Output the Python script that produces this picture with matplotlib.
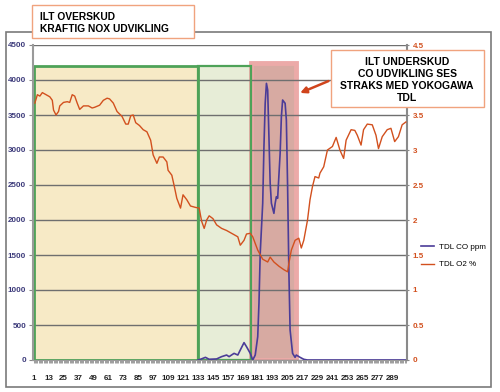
import matplotlib
matplotlib.use('Agg')
import matplotlib.pyplot as plt
from matplotlib.patches import Rectangle

# ---- data ----
o2_x = [2, 4, 6, 8, 11, 14, 16, 17, 19, 21, 22, 25, 28, 30, 32, 34, 36, 38, 41, 45,
        48, 50, 54, 57, 60, 62, 65, 68, 72, 75, 77, 79, 81, 83, 86, 89, 92, 95, 97, 100,
        102, 105, 108, 109, 112, 114, 116, 119, 121, 124, 127, 131, 134, 135, 136, 138, 140, 142, 145, 148,
        152, 156, 162, 165, 167, 170, 172, 175, 177, 181, 185, 189, 191, 194, 198, 202, 205, 206, 208, 211,
        214, 216, 218, 221, 223, 225, 227, 230, 231, 234, 237, 241, 244, 247, 250, 252, 256, 259, 261, 264,
        266, 269, 273, 276, 278, 281, 285, 288, 291, 294, 297, 300]
o2_y = [3.67, 3.79, 3.77, 3.82, 3.79, 3.76, 3.71, 3.57, 3.50, 3.55, 3.63, 3.68, 3.69, 3.68, 3.79, 3.77, 3.67, 3.58, 3.63, 3.63,
        3.60, 3.61, 3.64, 3.71, 3.74, 3.73, 3.67, 3.55, 3.48, 3.37, 3.37, 3.49, 3.50, 3.39, 3.35, 3.29, 3.26, 3.14, 2.93, 2.81,
        2.90, 2.90, 2.83, 2.71, 2.64, 2.48, 2.31, 2.17, 2.36, 2.29, 2.20, 2.18, 2.17, 2.07, 1.98, 1.88, 2.00, 2.06, 2.02, 1.93,
        1.88, 1.85, 1.79, 1.76, 1.64, 1.71, 1.80, 1.81, 1.76, 1.57, 1.44, 1.40, 1.47, 1.40, 1.34, 1.29, 1.26, 1.38, 1.57, 1.71,
        1.74, 1.60, 1.71, 2.00, 2.29, 2.48, 2.62, 2.60, 2.67, 2.76, 3.00, 3.05, 3.18, 3.00, 2.88, 3.14, 3.29, 3.28, 3.21, 3.07,
        3.29, 3.37, 3.36, 3.21, 3.02, 3.19, 3.29, 3.31, 3.12, 3.19, 3.36, 3.40]

co_x = [133, 135, 139, 142, 148, 152, 156, 158, 162, 165, 167, 170, 172, 175, 177, 179, 181, 182, 183,
        185, 186, 187, 188, 189, 190, 191, 192, 194, 195, 196, 197, 199, 200, 201, 203, 204, 205, 206, 207,
        209, 211, 212, 215, 218, 221, 300]
co_y = [0, 10, 38, 10, 15, 48, 71, 48, 95, 71, 143, 248, 190, 95, 0, 71, 333, 810, 1524,
        2238, 3047, 3667, 3952, 3857, 3190, 2524, 2238, 2095, 2238, 2333, 2310, 2952, 3476, 3714, 3667, 3429, 2476, 1286, 429,
        95, 38, 71, 38, 10, 0, 0]

n_points = 300
xtick_labels = list(range(1, 290, 12))
left_ticks = list(range(0, 4501, 500))
right_ticks = [0, 0.5, 1, 1.5, 2, 2.5, 3, 3.5, 4, 4.5]
# the "4" label sits hidden behind the note box in the reference
right_tick_labels = ['0', '0.5', '1', '1.5', '2', '2.5', '3', '3.5', '', '4.5']
series_names = ['TDL CO ppm', 'TDL O2 %']

# phase regions (category start, category end)
zone_ok = (0.5, 133)
zone_mid = (133, 176)
zone_co = (176, 211.5)

title_lines = 'ILT OVERSKUD\nKRAFTIG NOX UDVIKLING'
note_lines = 'ILT UNDERSKUD\nCO UDVIKLING SES\nSTRAKS MED YOKOGAWA\nTDL'

# ---- figure ----
W, H = 500, 392
fig = plt.figure(figsize=(W / 100, H / 100), dpi=100)
fig.patch.set_facecolor('white')

# outer chart border
fig.add_artist(Rectangle((6 / W, 1 - 387 / H), 485 / W, 355 / H, transform=fig.transFigure,
                         fill=False, edgecolor='#7a7a7a', linewidth=1.2, zorder=0))

ax = fig.add_axes([33 / W, 1 - 360 / H, (406.5 - 33) / W, (360 - 45) / H])
ax.set_facecolor('white')
ax2 = ax.twinx()

ax.set_xlim(0.5, n_points + 0.5)
ax.set_ylim(0, 4500)
ax2.set_ylim(0, 4.5)

# shaded zones
green = '#4ea258'
ax.add_patch(Rectangle((zone_ok[0], 0), zone_ok[1] - zone_ok[0], 4200, facecolor='#f7eac6',
                       edgecolor='none', zorder=0.1))
ax.add_patch(Rectangle((zone_mid[0], 0), zone_mid[1] - zone_mid[0], 4200, facecolor='#e7edd7',
                       edgecolor='none', zorder=0.1))
ax.add_patch(Rectangle((zone_co[0], 0), zone_co[1] - zone_co[0], 4240, facecolor='#d7aaa2',
                       edgecolor='#ecaaa8', linewidth=3.5, zorder=0.15))
ax.add_patch(Rectangle((zone_ok[0] + 0.6, 0), zone_ok[1] - zone_ok[0] - 0.6, 4200, fill=False,
                       edgecolor=green, linewidth=2.0, zorder=1.5))
ax.add_patch(Rectangle((zone_mid[0], 0), zone_mid[1] - zone_mid[0], 4200, fill=False,
                       edgecolor=green, linewidth=1.6, zorder=1.5))

ax.set_axisbelow(True)
ax.yaxis.grid(True, color='#6f6f6f', linewidth=1.0, zorder=0.5)
ax.xaxis.grid(False)

# series
co_line, = ax.plot(co_x, co_y, color='#4b3c98', linewidth=1.2, zorder=3)
o2_line, = ax2.plot(o2_x, o2_y, color='#d2501e', linewidth=1.0, zorder=3)

# axes styling
ax.spines['top'].set_visible(False)
ax2.spines['top'].set_visible(False)
ax.spines['left'].set_color('#9a9a9a')
ax.spines['left'].set_linewidth(1.5)
ax.spines['bottom'].set_color('#9a9a9a')
ax2.spines['right'].set_color('#8a8a8a')
ax2.spines['right'].set_linewidth(1.5)
ax2.spines['left'].set_visible(False)
ax2.spines['bottom'].set_visible(False)
ax.spines['right'].set_visible(False)

tick_font = {'family': 'Liberation Sans', 'size': 5.8, 'weight': 'bold'}
ax.set_yticks(left_ticks)
ax.set_yticklabels([str(v) for v in left_ticks], fontdict=tick_font, color='#3c3a7a')
ax.tick_params(axis='y', length=3, color='#888888', pad=2)

ax2.set_yticks(right_ticks)
ax2.set_yticklabels(right_tick_labels, fontdict=tick_font, color='#d2501e')
ax2.tick_params(axis='y', length=3, direction='inout', color='#888888', pad=3)

ax.set_xticks(xtick_labels)
ax.set_xticklabels([str(v) for v in xtick_labels], fontdict=tick_font, color='#222222')
ax.set_xticks(range(1, n_points + 1), minor=True)
ax.tick_params(axis='x', which='both', length=2.5, width=0.5, color='#777777', pad=8)

# title box
fig.add_artist(Rectangle((32 / W, 1 - 38 / H), 162 / W, 33 / H, transform=fig.transFigure,
                         facecolor='white', edgecolor='#f0a37e', linewidth=1.0, zorder=5))
fig.text(40 / W, 1 - 23 / H, title_lines, ha='left', va='center', fontsize=7.4,
         fontweight='bold', family='Liberation Sans', linespacing=1.35, zorder=6)

# note box
fig.add_artist(Rectangle((331 / W, 1 - 107 / H), 153 / W, 57 / H, transform=fig.transFigure,
                         facecolor='white', edgecolor='#f0a37e', linewidth=1.0, zorder=5))
fig.text(407 / W, 1 - 80 / H, note_lines, ha='center', va='center', fontsize=7.5,
         fontweight='bold', family='Liberation Sans', linespacing=1.22, zorder=6)

# arrow from note to red zone
ax.annotate('', xy=(213, 3800), xycoords='data',
            xytext=(331 / W, 1 - 80 / H), textcoords='figure fraction',
            arrowprops=dict(arrowstyle='-|>', color='#d0441c', lw=1.8, mutation_scale=9),
            zorder=7, annotation_clip=False)

# legend
fig.legend([co_line, o2_line], series_names, loc='center left',
           bbox_to_anchor=(418 / W, 1 - 256 / H), frameon=False,
           prop={'family': 'Liberation Sans', 'size': 5.8}, handlelength=1.6,
           labelspacing=1.2, borderaxespad=0, handletextpad=0.6)

fig.savefig('out.png', dpi=100)
